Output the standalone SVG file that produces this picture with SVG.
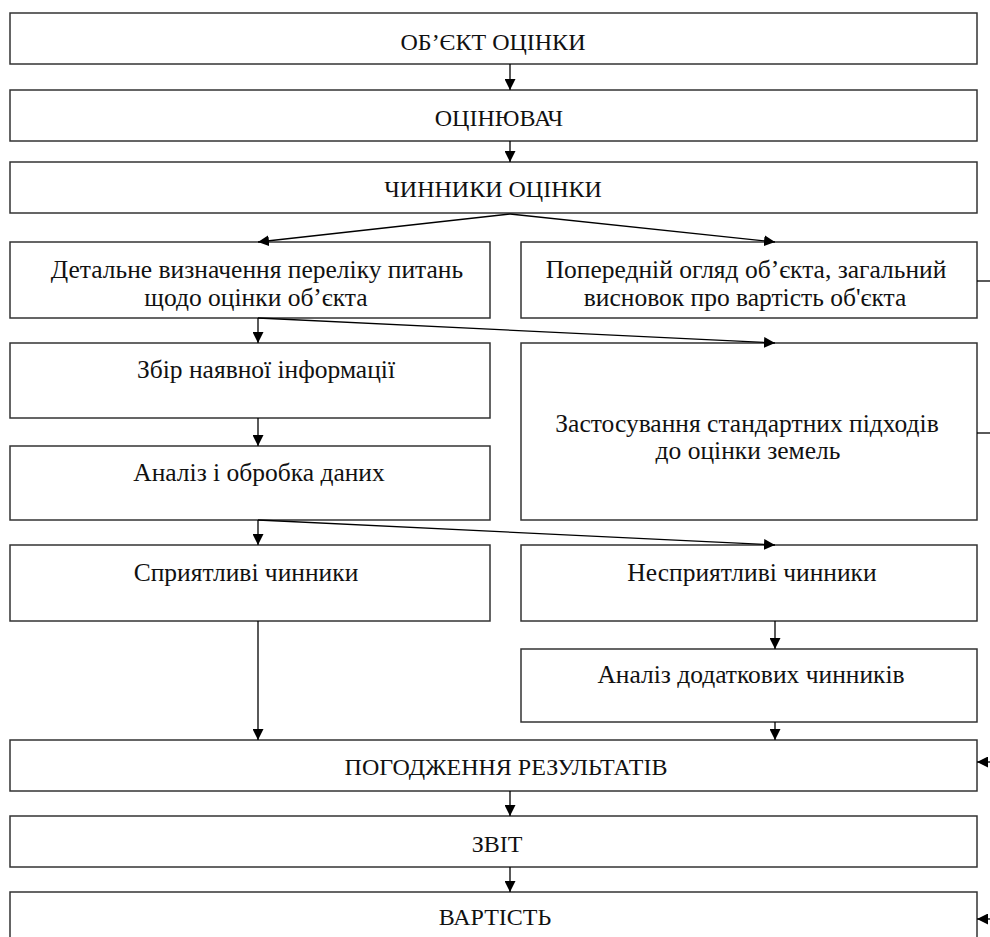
<svg xmlns="http://www.w3.org/2000/svg" width="990" height="937" viewBox="0 0 990 937">
<defs>
<marker id="ah" viewBox="0 0 10 10" refX="10" refY="5" markerWidth="11" markerHeight="11" markerUnits="userSpaceOnUse" orient="auto">
<path d="M0,0 L10,5 L0,10 z" fill="#000"/>
</marker>
</defs>
<style>
rect.b{fill:#fff;stroke:#333;stroke-width:1.5}
text{fill:#111;text-anchor:middle}
.cap{font-size:24px}
.c line{stroke:#000;stroke-width:1.3;fill:none}
</style>
<rect width="990" height="937" fill="#fff"/>
<g font-family="'Liberation Serif', 'Times New Roman', serif" font-size="25.5">
<g id="n1"><rect class="b" x="10" y="13" width="967" height="51"/><text class="cap" x="493" y="50">ОБ’ЄКТ ОЦІНКИ</text></g>
<g id="n2"><rect class="b" x="10" y="90" width="967" height="51"/><text class="cap" x="499" y="126">ОЦІНЮВАЧ</text></g>
<g id="n3"><rect class="b" x="10" y="162" width="967" height="51"/><text class="cap" x="493" y="197">ЧИННИКИ ОЦІНКИ</text></g>
<g id="n4"><rect class="b" x="10" y="242" width="480" height="76"/><text x="257" y="278">Детальне визначення переліку питань</text><text x="256" y="306">щодо оцінки об’єкта</text></g>
<g id="n5"><rect class="b" x="521" y="242" width="456" height="76"/><text x="746" y="278">Попередній огляд об’єкта, загальний</text><text x="745" y="306">висновок про вартість об'єкта</text></g>
<g id="n6"><rect class="b" x="10" y="343" width="480" height="75"/><text x="266" y="378">Збір наявної інформації</text></g>
<g id="n7"><rect class="b" x="521" y="343" width="456" height="177"/><text x="747" y="432">Застосування стандартних підходів</text><text x="748" y="459">до оцінки земель</text></g>
<g id="n8"><rect class="b" x="10" y="446" width="480" height="74"/><text x="259" y="481">Аналіз і обробка даних</text></g>
<g id="n9"><rect class="b" x="10" y="545" width="480" height="76"/><text x="246" y="581">Сприятливі чинники</text></g>
<g id="n10"><rect class="b" x="521" y="545" width="456" height="76"/><text x="752" y="581">Несприятливі чинники</text></g>
<g id="n11"><rect class="b" x="521" y="649" width="456" height="73"/><text x="751" y="683">Аналіз додаткових чинників</text></g>
<g id="n12"><rect class="b" x="10" y="740" width="967" height="51"/><text class="cap" x="506" y="775">ПОГОДЖЕННЯ РЕЗУЛЬТАТІВ</text></g>
<g id="n13"><rect class="b" x="10" y="816" width="967" height="51"/><text class="cap" x="497" y="852">ЗВІТ</text></g>
<g id="n14"><rect class="b" x="10" y="892" width="967" height="60"/><text class="cap" x="495" y="925">ВАРТІСТЬ</text></g>
</g>
<g class="c" id="connectors">
<line x1="510" y1="64" x2="510" y2="90" marker-end="url(#ah)"/>
<line x1="510" y1="141" x2="510" y2="162" marker-end="url(#ah)"/>
<line x1="510" y1="214" x2="258" y2="242" marker-end="url(#ah)"/>
<line x1="510" y1="214" x2="775" y2="242" marker-end="url(#ah)"/>
<line x1="258" y1="318" x2="258" y2="343" marker-end="url(#ah)"/>
<line x1="258" y1="318" x2="775" y2="343" marker-end="url(#ah)"/>
<line x1="258" y1="418" x2="258" y2="446" marker-end="url(#ah)"/>
<line x1="258" y1="520" x2="258" y2="545" marker-end="url(#ah)"/>
<line x1="258" y1="520" x2="775" y2="545" marker-end="url(#ah)"/>
<line x1="775" y1="621" x2="775" y2="649" marker-end="url(#ah)"/>
<line x1="775" y1="722" x2="775" y2="740" marker-end="url(#ah)"/>
<line x1="258" y1="621" x2="258" y2="740" marker-end="url(#ah)"/>
<line x1="510" y1="791" x2="510" y2="816" marker-end="url(#ah)"/>
<line x1="510" y1="867" x2="510" y2="892" marker-end="url(#ah)"/>
<line x1="977" y1="281" x2="990" y2="281"/>
<line x1="977" y1="433" x2="990" y2="433"/>
<line x1="992" y1="762" x2="977" y2="762" marker-end="url(#ah)"/>
<line x1="992" y1="919" x2="977" y2="919" marker-end="url(#ah)"/>
</g>
</svg>
